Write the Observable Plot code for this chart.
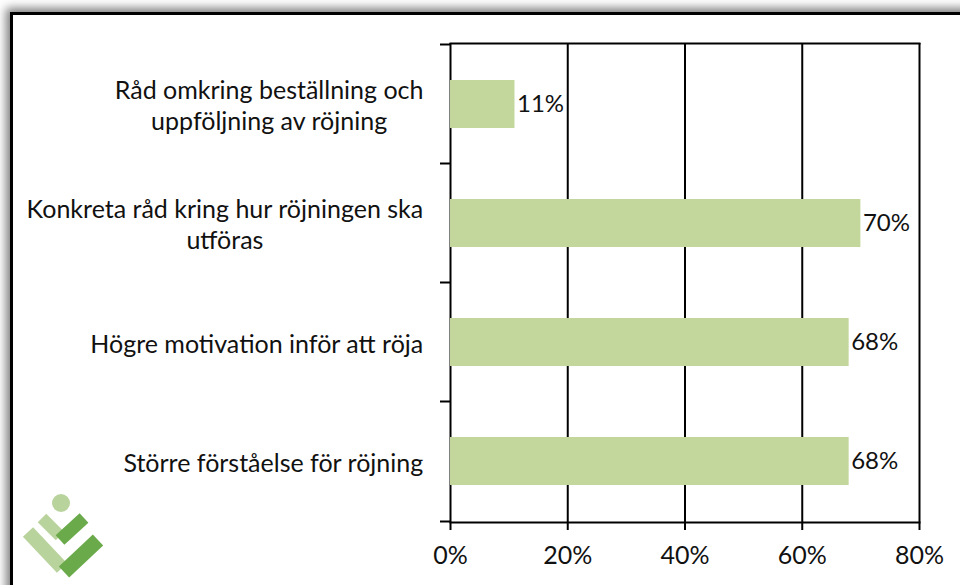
<!DOCTYPE html>
<html>
<head>
<meta charset="utf-8">
<script src="https://cdn.jsdelivr.net/npm/d3@7"></script>
<script src="https://cdn.jsdelivr.net/npm/@observablehq/plot@0.6"></script>
<style>
  html, body { margin: 0; padding: 0; background: #fff; }
  #wrap { position: relative; width: 960px; height: 585px; overflow: hidden; background: #fff; }
  #frame { position: absolute; left: 10px; top: 12px; width: 980px; height: 620px;
           border: 3px solid #000; background: #fff;
           box-shadow: -2px -2px 9px 2px rgba(0,0,0,0.5); }
  #chart { position: absolute; left: 0; top: 0; }
  #logo { position: absolute; left: 18px; top: 488px; }
</style>
</head>
<body>
<div id="wrap">
  <div id="frame"></div>
  <svg id="logo" width="90" height="96" viewBox="0 0 90 96">
    <circle cx="43" cy="15" r="9" fill="#b9d39d"/>
    <line x1="24" y1="30" x2="42" y2="48" stroke="#b9d39d" stroke-width="12"/>
    <line x1="10" y1="44" x2="44" y2="80" stroke="#b9d39d" stroke-width="14"/>
    <line x1="42" y1="52" x2="66" y2="30" stroke="#6aaa4a" stroke-width="13"/>
    <line x1="46" y1="84" x2="80" y2="52" stroke="#6aaa4a" stroke-width="15"/>
  </svg>
  <div id="chart"></div>
</div>
<script>
const categories = [
  "Råd omkring beställning och\nuppföljning av röjning",
  "Konkreta råd kring hur röjningen ska\nutföras",
  "Högre motivation inför att röja",
  "Större förståelse för röjning"
];
const values = [0.11, 0.70, 0.68, 0.68];
const xTicks = [0, 0.2, 0.4, 0.6, 0.8];

const data = categories.map((c, i) => ({category: c, value: values[i]}));
const pct = d3.format(".0%");

const FONT = "Lato";
const FS = 25;
const ctx = document.createElement("canvas").getContext("2d");
ctx.font = `${FS}px ${FONT}`;
const blockWidth = s => Math.max(...s.split("\n").map(l => ctx.measureText(l).width));

const labelMarks = categories.map(c =>
  Plot.text([c], {
    y: d => d,
    text: d => d,
    frameAnchor: "left",
    textAnchor: "middle",
    lineHeight: 1.25,
    dx: -(27 + blockWidth(c) / 2),
    fill: "#111",
    fontSize: FS
  })
);

const chart = Plot.plot({
  width: 960,
  height: 585,
  marginLeft: 450,
  marginRight: 41,
  marginTop: 43,
  marginBottom: 63,
  style: {background: "transparent", fontFamily: FONT, fontSize: FS + "px", color: "#111"},
  x: {domain: [0, 0.8], ticks: xTicks, tickFormat: pct, label: null},
  y: {domain: categories, paddingInner: 0.6, paddingOuter: 0.3, axis: null},
  marks: [
    Plot.gridX(xTicks, {stroke: "#000", strokeOpacity: 1, strokeWidth: 2}),
    Plot.barX(data, {x: "value", y: "category", fill: "#c3d69b"}),
    Plot.frame({anchor: "top", stroke: "#000", strokeWidth: 2}),
    Plot.frame({anchor: "bottom", stroke: "#000", strokeWidth: 2}),
    Plot.axisY(categories, {anchor: "left", tickSize: 10, tickFormat: null, dy: -60, stroke: "#000", strokeWidth: 2, label: null}),
    Plot.axisY(categories.slice(-1), {anchor: "left", tickSize: 10, tickFormat: null, dy: 60, stroke: "#000", strokeWidth: 2, label: null}),
    Plot.axisX(xTicks, {anchor: "bottom", tickSize: 8, tickPadding: 16, tickFormat: pct, stroke: "#000", strokeWidth: 2, fill: "#111", fontSize: FS, label: null}),
    Plot.text(data, {x: "value", y: "category", text: d => pct(d.value), textAnchor: "start", dx: 2, fill: "#111", fontSize: 24}),
    ...labelMarks
  ]
});
document.getElementById("chart").appendChild(chart);
</script>
</body>
</html>
